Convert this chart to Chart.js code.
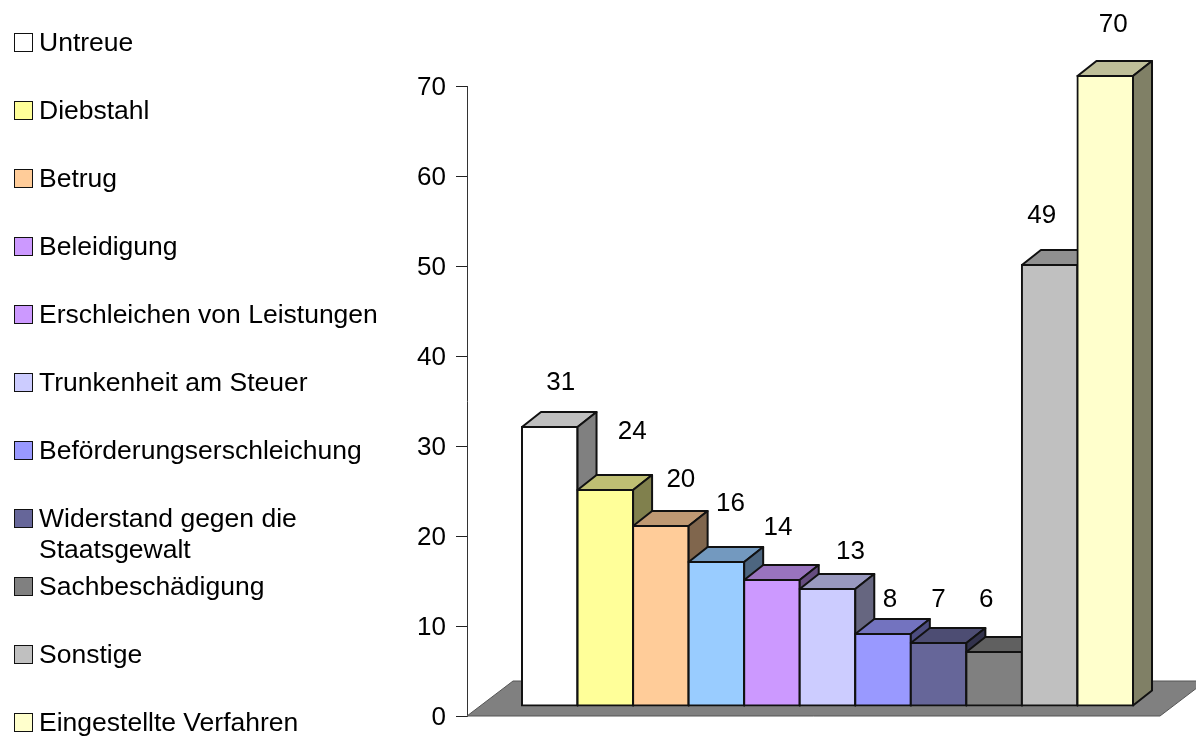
<!DOCTYPE html>
<html lang="de">
<head>
<meta charset="utf-8">
<title>Delikte</title>
<script src="https://cdn.jsdelivr.net/npm/chart.js@4/dist/chart.umd.min.js"></script>
<style>
    body { margin: 0; background: #fff; font-family: "Liberation Sans", Arial, sans-serif; color: #000; }
    #wrap { position: relative; width: 1196px; height: 738px; overflow: hidden; }
    canvas { display: block; }
    #legend { position: absolute; left: 14px; top: 8px; margin: 0; padding: 0; list-style: none; font-size: 26.5px; line-height: 31px; }
    #legend li { display: flex; align-items: flex-start; height: 68px; padding-top: 18.5px; box-sizing: border-box; }
    #legend i { flex: none; width: 19px; height: 19px; margin: 6px 6px 0 0; border: 1.5px solid #111; box-sizing: border-box; }
    #legend span { max-width: 345px; }
</style>
</head>
<body>
<div id="wrap">
    <canvas id="delikte" width="1196" height="738"></canvas>
    <ul id="legend"></ul>
</div>
<script>
const categories = ['Untreue', 'Diebstahl', 'Betrug', 'Beleidigung', 'Erschleichen von Leistungen',
    'Trunkenheit am Steuer', 'Beförderungserschleichung', 'Widerstand gegen die Staatsgewalt',
    'Sachbeschädigung', 'Sonstige', 'Eingestellte Verfahren'];
const values = [31, 24, 20, 16, 14, 13, 8, 7, 6, 49, 70];
const yTicks = [0, 10, 20, 30, 40, 50, 60, 70];
const barColors = ['#FFFFFF', '#FFFF99', '#FFCC99', '#99CCFF', '#CC99FF', '#CCCCFF', '#9999FF', '#666699', '#808080', '#C0C0C0', '#FFFFCC'];
const legendColors = ['#FFFFFF', '#FFFF99', '#FFCC99', '#CC99FF', '#CC99FF', '#CCCCFF', '#9999FF', '#666699', '#808080', '#C0C0C0', '#FFFFCC'];
// value labels were hand placed around the bars: [right of bar centre, above bar top]
const labelNudges = [[11, 44], [27, 58], [20, 46], [14, 58], [6, 52], [23, 37], [7, 34], [0, 43], [-8, 52], [-8, 49], [8, 51]];

// depth of the floor and of the bars, in pixels
const FLOOR_DX = 46, FLOOR_DY = 35;
const BAR_DX = 19, BAR_DY = 15;
const SHIFT_X = 14, SHIFT_Y = -10;

function shade(hex, f) {
    const n = parseInt(hex.slice(1), 16);
    const c = s => Math.round(((n >> s) & 255) * f);
    return `rgb(${c(16)},${c(8)},${c(0)})`;
}

function face(ctx, pts, fill) {
    ctx.beginPath();
    pts.forEach((p, i) => i ? ctx.lineTo(p[0], p[1]) : ctx.moveTo(p[0], p[1]));
    ctx.closePath();
    ctx.fillStyle = fill;
    ctx.fill();
    ctx.stroke();
}

const fake3d = {
    id: 'fake3d',
    // takes over dataset drawing: bars have to be painted left to right,
    // each one hides the side face of the one before it
    beforeDatasetsDraw(chart) {
        const { ctx, chartArea: a } = chart;
        ctx.save();
        ctx.strokeStyle = '#555';
        ctx.lineWidth = 1;
        face(ctx, [[a.left, a.bottom], [a.left + FLOOR_DX, a.bottom - FLOOR_DY], [a.right + FLOOR_DX, a.bottom - FLOOR_DY], [a.right, a.bottom]], '#808080');
        ctx.restore();

        values.forEach((v, i) => {
            const meta = chart.getDatasetMeta(i);
            const bar = meta.data[0];
            const l = bar.x - bar.width / 2, r = bar.x + bar.width / 2;
            ctx.save();
            ctx.translate(SHIFT_X, SHIFT_Y);
            meta.controller.draw();
            ctx.strokeStyle = '#111';
            ctx.lineWidth = 2;
            ctx.lineJoin = 'round';
            face(ctx, [[l, bar.y], [l + BAR_DX, bar.y - BAR_DY], [r + BAR_DX, bar.y - BAR_DY], [r, bar.y]], shade(barColors[i], 0.75));
            face(ctx, [[r, bar.y], [r + BAR_DX, bar.y - BAR_DY], [r + BAR_DX, bar.base - BAR_DY], [r, bar.base]], shade(barColors[i], 0.5));
            ctx.restore();
        });
        return false;
    },
    afterDraw(chart) {
        const { ctx } = chart;
        ctx.save();
        ctx.fillStyle = '#000';
        ctx.font = '26px "Liberation Sans", Arial, sans-serif';
        ctx.textAlign = 'center';
        ctx.textBaseline = 'middle';
        values.forEach((v, i) => {
            const bar = chart.getDatasetMeta(i).data[0];
            ctx.fillText(String(v), bar.x + SHIFT_X + labelNudges[i][0], bar.y + SHIFT_Y - labelNudges[i][1]);
        });
        ctx.restore();
    }
};

const chart = new Chart(document.getElementById('delikte'), {
    type: 'bar',
    data: {
        labels: [''],
        datasets: categories.map((name, i) => ({
            label: name,
            data: [values[i]],
            backgroundColor: barColors[i],
            borderColor: '#111',
            borderWidth: 2,
            borderSkipped: false,
            inflateAmount: 1,
            categoryPercentage: 0.8817,
            barPercentage: 1
        }))
    },
    options: {
        responsive: false,
        animation: false,
        layout: { padding: { left: 0, right: 36, top: 86, bottom: 22 } },
        plugins: { legend: { display: false }, tooltip: { enabled: false } },
        scales: {
            x: { display: false },
            y: {
                min: yTicks[0],
                max: yTicks[yTicks.length - 1],
                afterFit: scale => {
                    // the plot box is fixed, tick labels must not push it around
                    scale.width = 467;
                    scale.paddingTop = 0;
                    scale.paddingBottom = 0;
                },
                afterBuildTicks: scale => { scale.ticks = yTicks.map(value => ({ value })); },
                border: { color: '#333', width: 1 },
                grid: { drawOnChartArea: false, tickLength: 11, tickColor: '#222', tickWidth: 1 },
                ticks: { color: '#000', padding: 10, labelOffset: 2, font: { family: '"Liberation Sans", Arial, sans-serif', size: 26 } }
            }
        }
    },
    plugins: [fake3d]
});

// legend stays in HTML so the long entry can wrap
const legend = document.getElementById('legend');
categories.forEach((name, i) => {
    const li = document.createElement('li');
    const box = document.createElement('i');
    box.style.background = legendColors[i];
    const text = document.createElement('span');
    text.textContent = name;
    li.append(box, text);
    legend.appendChild(li);
});
</script>
</body>
</html>
